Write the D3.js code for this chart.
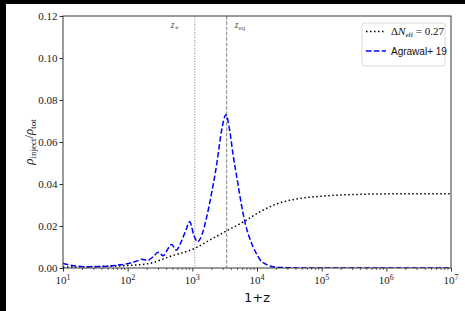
<!DOCTYPE html>
<html>
<head>
<meta charset="utf-8">
<script src="https://cdn.jsdelivr.net/npm/d3@7"></script>
<style>
  html, body { margin: 0; padding: 0; background: #000; }
  svg { display: block; }
</style>
</head>
<body>
<div id="chart"></div>
<script>
// 1+z sample points for the two curves
const zDelta = [10, 30, 100, 220, 450, 1100, 1860, 3550, 6200, 11200, 20000, 40000, 100000, 320000, 1000000, 10000000];
const valDelta = [0.0004, 0.0007, 0.0012, 0.0022, 0.0055, 0.0094, 0.0133, 0.018, 0.022, 0.0268, 0.0305, 0.0328, 0.0342, 0.035, 0.0353, 0.0354];

const zAgrawal = [10, 12.6, 15.8, 25, 40, 63, 89, 112, 141, 166, 200, 251, 295, 355, 398, 479, 562, 661, 794, 912, 1047, 1202, 1413, 1660, 1995, 2399, 2818, 3311, 3802, 4266, 5012, 5754, 6607, 7943, 9550, 11220, 14125, 17783, 25119, 39811, 100000, 10000000];
const valAgrawal = [0.0022, 0.0014, 0.0009, 0.0006, 0.0007, 0.0012, 0.0018, 0.0024, 0.0034, 0.0042, 0.0036, 0.0055, 0.0075, 0.0058, 0.008, 0.0112, 0.0085, 0.012, 0.018, 0.022, 0.016, 0.0125, 0.016, 0.024, 0.036, 0.05, 0.065, 0.073, 0.065, 0.054, 0.041, 0.03, 0.021, 0.013, 0.0075, 0.0038, 0.0016, 0.0006, 0.0002, 0.00005, 0, 0];

const yTicks = [0, 0.02, 0.04, 0.06, 0.08, 0.10, 0.12];
const xTicks = [1e1, 1e2, 1e3, 1e4, 1e5, 1e6, 1e7];
const zStar = 1090;
const zEq = 3400;

const width = 465, height = 311;
const margin = {left: 63, top: 16, right: 14, bottom: 43};

const svg = d3.select('#chart').append('svg')
  .attr('width', width).attr('height', height);

svg.append('rect').attr('x', 6).attr('y', 4).attr('width', width - 6).attr('height', height - 4).attr('fill', '#fff');

const x = d3.scaleLog().domain([1e1, 1e7]).range([margin.left, width - margin.right]);
const y = d3.scaleLinear().domain([0, 0.12]).range([height - margin.bottom, margin.top]);

const serif = '"Liberation Serif", "DejaVu Serif", serif';
const sans = '"DejaVu Sans", sans-serif';

svg.append('defs').append('clipPath').attr('id', 'plotclip')
  .append('rect').attr('x', margin.left).attr('y', margin.top)
  .attr('width', x.range()[1] - margin.left).attr('height', y.range()[0] - margin.top);

// reference vertical lines
svg.append('line')
  .attr('x1', x(zStar)).attr('x2', x(zStar))
  .attr('y1', y(0.12)).attr('y2', y(0))
  .attr('stroke', '#808080').attr('stroke-width', 1)
  .attr('stroke-dasharray', '1,1.65');
svg.append('line')
  .attr('x1', x(zEq)).attr('x2', x(zEq))
  .attr('y1', y(0.12)).attr('y2', y(0))
  .attr('stroke', '#808080').attr('stroke-width', 1)
  .attr('stroke-dasharray', '3.7,1.6');

svg.append('text').attr('x', x(zStar) - 24).attr('y', 28)
  .style('font-family', serif).style('font-size', '9.5px').attr('fill', '#555')
  .html('<tspan font-style="italic">z</tspan><tspan dy="2" font-size="7px">∗</tspan>');
svg.append('text').attr('x', x(zEq) + 8).attr('y', 28)
  .style('font-family', serif).style('font-size', '9.5px').attr('fill', '#555')
  .html('<tspan font-style="italic">z</tspan><tspan dy="2" font-size="7px">eq</tspan>');

const line = d3.line().x(d => x(d[0])).y(d => y(d[1])).curve(d3.curveMonotoneX);

const g = svg.append('g').attr('clip-path', 'url(#plotclip)');

g.append('path')
  .datum(zDelta.map((z, i) => [z, valDelta[i]]))
  .attr('d', line)
  .attr('fill', 'none').attr('stroke', '#000').attr('stroke-width', 1.5)
  .attr('stroke-dasharray', '1.5,2.5');

g.append('path')
  .datum(zAgrawal.map((z, i) => [z, valAgrawal[i]]))
  .attr('d', line)
  .attr('fill', 'none').attr('stroke', '#0000ff').attr('stroke-width', 1.5)
  .attr('stroke-dasharray', '5.5,2.4');

// axes
const minor = [];
for (let e = 1; e < 7; e++) for (let m = 2; m < 10; m++) minor.push(m * Math.pow(10, e));

const xAxis = svg.append('g').attr('transform', `translate(0,${y(0)})`);
xAxis.selectAll('line.minor').data(minor).enter().append('line')
  .attr('x1', d => x(d)).attr('x2', d => x(d)).attr('y1', 0).attr('y2', 2)
  .attr('stroke', '#000').attr('stroke-width', 0.6);
xAxis.call(d3.axisBottom(x).tickValues(xTicks).tickSize(3.5).tickFormat(''));
xAxis.select('.domain').remove();
xAxis.selectAll('.tick line').attr('stroke-width', 0.8);

svg.append('g').selectAll('text').data(xTicks).enter().append('text')
  .attr('x', d => x(d)).attr('y', y(0) + 16)
  .attr('text-anchor', 'middle')
  .style('font-family', serif).style('font-size', '11px').attr('fill', '#222')
  .html(d => `10<tspan dy="-4" font-size="8px">${Math.round(Math.log10(d))}</tspan>`);

const yAxis = svg.append('g').attr('transform', `translate(${margin.left},0)`)
  .call(d3.axisLeft(y).tickValues(yTicks).tickSize(3.5).tickPadding(2).tickFormat(d3.format('.2f')));
yAxis.select('.domain').remove();
yAxis.selectAll('.tick line').attr('stroke-width', 0.8);
yAxis.selectAll('.tick text').style('font-family', serif).style('font-size', '11px').attr('fill', '#222');

// frame
svg.append('rect')
  .attr('x', margin.left).attr('y', margin.top)
  .attr('width', x.range()[1] - margin.left).attr('height', y.range()[0] - margin.top)
  .attr('fill', 'none').attr('stroke', '#222').attr('stroke-width', 0.9);

// axis labels
svg.append('text').attr('x', (margin.left + x.range()[1]) / 2).attr('y', 302)
  .attr('text-anchor', 'middle')
  .style('font-family', sans).style('font-size', '13px').attr('fill', '#111')
  .text('1+z');

svg.append('text')
  .attr('transform', `translate(33,${(margin.top + y(0)) / 2}) rotate(-90)`)
  .attr('text-anchor', 'middle')
  .style('font-family', serif).style('font-size', '13px').attr('fill', '#111')
  .html('<tspan font-style="italic">ρ</tspan><tspan dy="3" font-size="9px">inject</tspan><tspan dy="-3">/</tspan><tspan font-style="italic">ρ</tspan><tspan dy="3" font-size="9px">tot</tspan>');

// legend
const leg = svg.append('g');
leg.append('rect').attr('x', 362).attr('y', 23).attr('width', 83).attr('height', 43)
  .attr('rx', 2.5).attr('fill', '#fff').attr('fill-opacity', 0.8)
  .attr('stroke', '#d0d0d0').attr('stroke-width', 0.8);
leg.append('line').attr('x1', 366).attr('x2', 386).attr('y1', 31.5).attr('y2', 31.5)
  .attr('stroke', '#000').attr('stroke-width', 1.5).attr('stroke-dasharray', '1.5,2.5');
leg.append('line').attr('x1', 366).attr('x2', 386).attr('y1', 51).attr('y2', 51)
  .attr('stroke', '#0000ff').attr('stroke-width', 1.5).attr('stroke-dasharray', '5.5,2.4');
leg.append('text').attr('x', 391).attr('y', 35)
  .style('font-family', serif).style('font-size', '11px').attr('fill', '#111')
  .html('Δ<tspan font-style="italic">N</tspan><tspan dy="2" font-size="7px">eff</tspan><tspan dy="-2"> = 0.27</tspan>');
leg.append('text').attr('x', 391).attr('y', 55)
  .style('font-family', '"Liberation Sans", sans-serif').style('font-size', '10px').attr('fill', '#111')
  .text('Agrawal+ 19');
</script>
</body>
</html>
